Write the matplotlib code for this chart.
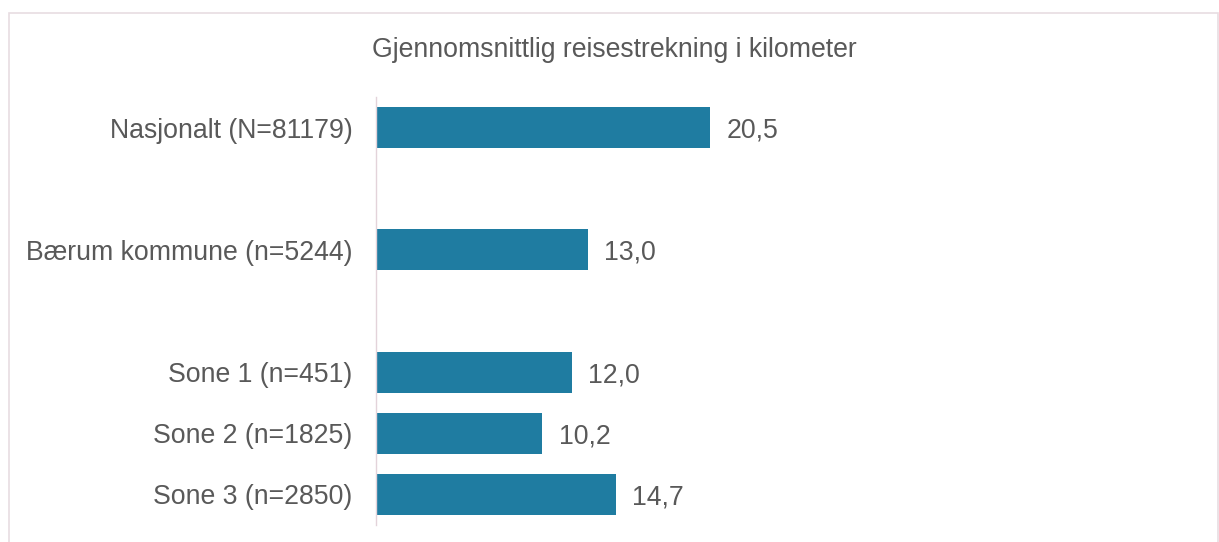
import matplotlib.pyplot as plt
from matplotlib.patches import Rectangle

categories = [
    "Nasjonalt (N=81179)",
    "Bærum kommune (n=5244)",
    "Sone 1 (n=451)",
    "Sone 2 (n=1825)",
    "Sone 3 (n=2850)",
]
values = [20.5, 13.0, 12.0, 10.2, 14.7]
slots = [0, 2, 4, 5, 6]
title = "Gjennomsnittlig reisestrekning i kilometer"

plt.rcParams["font.family"] = ["Liberation Sans", "DejaVu Sans"]
text_color = "#595959"
bar_color = "#1F7CA1"

fig = plt.figure(figsize=(12.19, 5.42), dpi=100)
ax = fig.add_axes([376 / 1219, 1 - 525 / 542, 815 / 1219, 428 / 542])

ax.barh(slots, values, height=0.67, color=bar_color, zorder=2)
for s, v in zip(slots, values):
    ax.text(v + 1.0, s, f"{v:.1f}".replace(".", ","), va="center_baseline",
            ha="left", fontsize=19.2, color=text_color)

ax.set_xlim(0, 50)
ax.set_ylim(6.5, -0.5)
ax.set_yticks(slots)
ax.set_yticklabels(categories)
ax.set_xticks([])
ax.tick_params(axis="y", length=0, pad=17, labelsize=19.2, labelcolor=text_color)
for side in ["top", "right", "bottom"]:
    ax.spines[side].set_visible(False)
ax.spines["left"].set_color("#E3D3DA")
ax.spines["left"].set_linewidth(1.0)

fig.text(614.5 / 1219, 1 - 50 / 542, title, ha="center", va="center",
         fontsize=19.2, color=text_color)

fig.patches.append(Rectangle((8.5 / 1219, -0.1), 1209 / 1219, 1.1 - 12.5 / 542,
                             transform=fig.transFigure, fill=False,
                             edgecolor="#E8DDE2", linewidth=1.2))

fig.savefig("out.png", dpi=100)
